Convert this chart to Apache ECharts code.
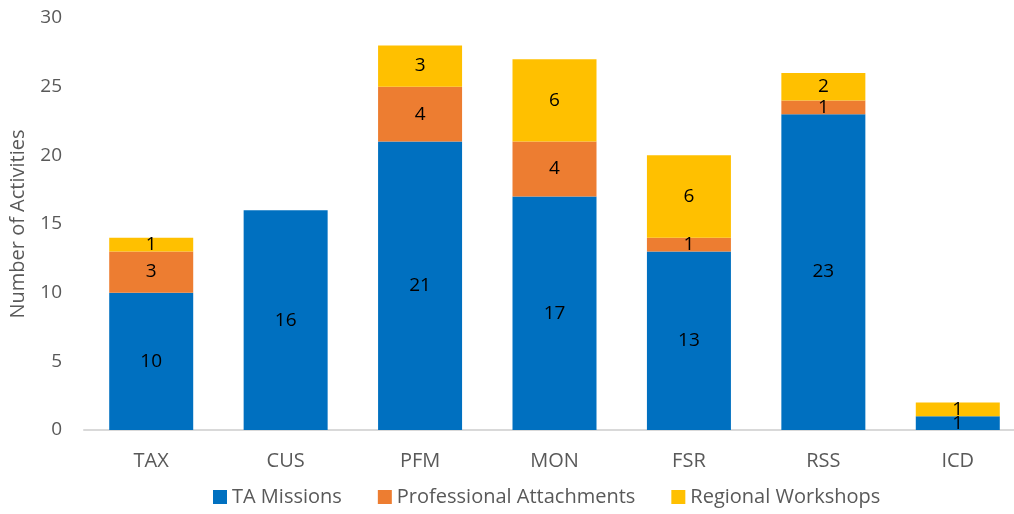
<!DOCTYPE html>
<html>
<head>
<meta charset="utf-8">
<script src="https://cdn.jsdelivr.net/npm/echarts@6/dist/echarts.min.js"></script>
<style>
  html, body { margin: 0; padding: 0; background: #fff; }
  #chart { width: 1014px; height: 514px; }
</style>
</head>
<body>
<div id="chart"></div>
<script>
  // 类别与数据
  const categories = ['TAX', 'CUS', 'PFM', 'MON', 'FSR', 'RSS', 'ICD']
  const taMissions = [10, 16, 21, 17, 13, 23, 1]
  const profAttachments = [3, 0, 4, 4, 1, 1, 0]
  const regionalWorkshops = [1, 0, 3, 6, 6, 2, 1]
  const yTicks = [0, 5, 10, 15, 20, 25, 30]

  const font = '"Open Sans", Lato, sans-serif'
  const label = {
    show: true,
    position: 'inside',
    color: '#000',
    fontSize: 19,
    fontFamily: font,
    formatter: p => (p.value ? p.value : '')
  }

  const chart = echarts.init(document.getElementById('chart'))
  chart.setOption({
    animation: false,
    grid: { left: 84, top: 18, width: 941, bottom: 84, outerBoundsMode: 'none' },
    legend: {
      bottom: 2,
      left: 208,
      itemWidth: 14,
      itemHeight: 14,
      itemGap: 36,
      icon: 'rect',
      textStyle: { color: '#595959', fontSize: 20, fontFamily: font },
      data: ['TA Missions', 'Professional Attachments', 'Regional Workshops']
    },
    xAxis: {
      type: 'category',
      data: categories,
      axisLine: { lineStyle: { color: '#D9D9D9', width: 2 } },
      axisTick: { show: false },
      axisLabel: { color: '#595959', fontSize: 20, fontFamily: font, margin: 21 }
    },
    yAxis: {
      type: 'value',
      min: yTicks[0],
      max: yTicks[yTicks.length - 1],
      interval: 5,
      name: 'Number of Activities',
      nameLocation: 'middle',
      nameGap: 56,
      nameTextStyle: { color: '#595959', fontSize: 20, fontFamily: font },
      splitLine: { show: false },
      axisLine: { show: false },
      axisTick: { show: false },
      axisLabel: { color: '#595959', fontSize: 19, fontFamily: font, margin: 22 }
    },
    series: [
      { name: 'TA Missions', type: 'bar', stack: 'a', barWidth: 84, data: taMissions,
        itemStyle: { color: '#0070C0' }, label: label },
      { name: 'Professional Attachments', type: 'bar', stack: 'a', data: profAttachments,
        itemStyle: { color: '#ED7D31' }, label: label },
      { name: 'Regional Workshops', type: 'bar', stack: 'a', data: regionalWorkshops,
        itemStyle: { color: '#FFC000' }, label: label }
    ]
  })
</script>
</body>
</html>
